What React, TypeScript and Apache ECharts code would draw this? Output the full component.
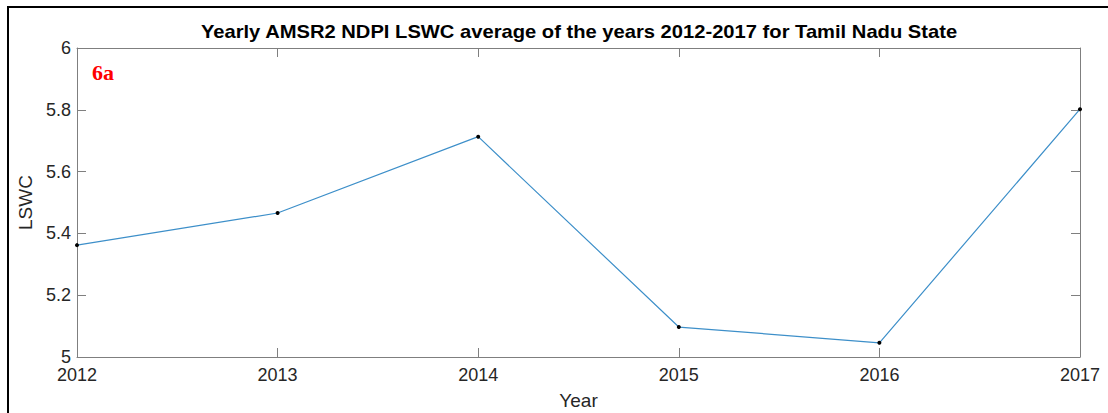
import React, { useEffect, useRef } from "react";
import * as echarts from "echarts";

// Yearly LSWC averages, Tamil Nadu
const years = [2012, 2013, 2014, 2015, 2016, 2017];
const lswc = [5.362, 5.466, 5.713, 5.097, 5.046, 5.802];

const titleText = "Yearly AMSR2 NDPI LSWC average of the years 2012-2017 for Tamil Nadu State";
const panelLabel = "6a";

const axisGray = "#7f7f7f";
const labelColor = "#262626";
const font = "'Liberation Sans', Arial, sans-serif";

export default function App() {
  const ref = useRef<HTMLDivElement>(null);

  useEffect(() => {
    if (!ref.current) return;
    const chart = echarts.init(ref.current, null, { renderer: "svg" });

    const baseX = {
      type: "value" as const,
      min: 2012,
      max: 2017,
      interval: 1,
      axisLine: { show: true, onZero: false, lineStyle: { color: axisGray, width: 1 } },
      axisTick: { show: true, inside: true, length: 9, lineStyle: { color: axisGray } },
      splitLine: { show: false },
    };
    const baseY = {
      type: "value" as const,
      min: 5,
      max: 6,
      interval: 0.2,
      axisLine: { show: true, onZero: false, lineStyle: { color: axisGray, width: 1 } },
      axisTick: { show: true, inside: true, length: 9, lineStyle: { color: axisGray } },
      splitLine: { show: false },
    };

    chart.setOption({
      animation: false,
      backgroundColor: "#ffffff",
      grid: {
        left: 77,
        right: 28,
        top: 48,
        bottom: 56,
        containLabel: false,
        outerBoundsMode: "none",
      },
      xAxis: [
        {
          ...baseX,
          position: "bottom",
          name: "Year",
          nameLocation: "middle",
          nameGap: 34,
          nameTextStyle: { fontFamily: font, fontSize: 19, color: labelColor },
          axisLabel: {
            fontFamily: font,
            fontSize: 18,
            color: labelColor,
            margin: 9,
            formatter: (v: number) => String(v),
          },
        },
        { ...baseX, position: "top", axisLabel: { show: false } },
      ],
      yAxis: [
        {
          ...baseY,
          position: "left",
          name: "LSWC",
          nameLocation: "middle",
          nameGap: 37,
          nameTextStyle: { fontFamily: font, fontSize: 19, color: labelColor },
          axisLabel: {
            fontFamily: font,
            fontSize: 18,
            color: labelColor,
            margin: 6,
            formatter: (v: number) => {
              const r = Math.round(v * 10) / 10;
              return Number.isInteger(r) ? String(r) : r.toFixed(1);
            },
          },
        },
        { ...baseY, position: "right", axisLabel: { show: false } },
      ],
      graphic: [
        {
          type: "rect",
          shape: { x: 8, y: 7, width: 1130, height: 430 },
          style: { fill: "none", stroke: "#000", lineWidth: 2 },
          silent: true,
        },
        {
          type: "text",
          x: 579,
          y: 32,
          scaleX: 1.12,
          style: {
            text: titleText,
            fill: "#000",
            font: `bold 18px ${font}`,
            align: "center",
            verticalAlign: "middle",
          },
        },
        {
          type: "text",
          left: 92,
          top: 61,
          style: {
            text: panelLabel,
            fill: "#ff0000",
            font: "bold 22px 'Liberation Serif', 'Times New Roman', serif",
          },
        },
      ],
      series: [
        {
          type: "line",
          data: years.map((y, i) => [y, lswc[i]]),
          symbol: "circle",
          symbolSize: 4,
          showSymbol: true,
          lineStyle: { color: "#3d8fc9", width: 1.2 },
          itemStyle: { color: "#000" },
        },
      ],
    });

    return () => chart.dispose();
  }, []);

  return (
    <div
      ref={ref}
      style={{ position: "absolute", left: 0, top: 0, width: 1108, height: 413 }}
    />
  );
}
